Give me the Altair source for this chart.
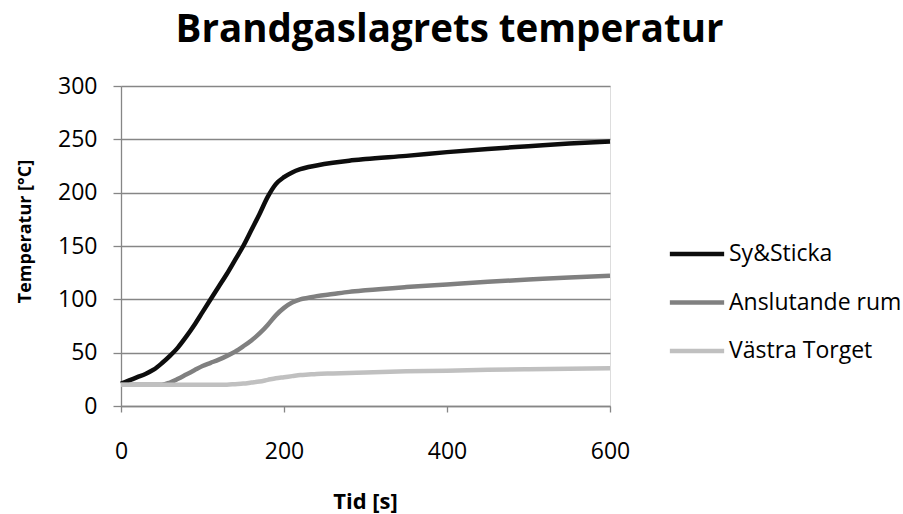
import altair as alt
import pandas as pd

# --- data ---
time_s = [0, 10, 20, 30, 40, 50, 60, 70, 80, 90, 100, 110, 120, 130, 140, 150, 160, 170,
          180, 190, 200, 210, 220, 230, 240, 260, 280, 300, 350, 400, 450, 500, 550, 600]
sy_sticka = [21, 24, 27, 30, 34, 40, 47, 55, 65, 76, 88, 100, 112, 124, 137, 150, 165, 180,
             196, 208, 214.5, 219, 222, 224, 225.5, 228, 230, 231.5, 234.5, 238, 241, 243.5, 246, 248]
anslutande = [20, 20, 20, 20, 20, 20, 22, 25.5, 29.5, 33.5, 37.5, 40.5, 43.5, 47, 51, 56, 61.5, 68,
              76, 85, 92, 97, 100, 101.5, 103, 105, 107, 108.5, 111.5, 114, 116.5, 118.5, 120.5, 122]
vastra = [20, 20, 20, 20, 20, 20, 20, 20, 20, 20, 20, 20, 20, 20, 20.5, 21, 22, 23,
          24.5, 26, 27, 28, 29, 29.5, 30, 30.5, 31, 31.5, 32.5, 33, 34, 34.5, 35, 35.5]
series_names = ["Sy&Sticka", "Anslutande rum", "Västra Torget"]
series_colors = ["#0d0d0d", "#808080", "#c0c0c0"]
x_ticks = [0, 200, 400, 600]
y_ticks = [0, 50, 100, 150, 200, 250, 300]

rows = []
for name, vals in zip(series_names, [sy_sticka, anslutande, vastra]):
    for t, v in zip(time_s, vals):
        rows.append({"t": t, "temp": v, "serie": name})
df = pd.DataFrame(rows)

FONT = "Open Sans"
GRID = "#868686"

chart = alt.Chart(df).mark_line(strokeWidth=4.5, interpolate="monotone").encode(
    x=alt.X("t:Q",
            scale=alt.Scale(domain=[0, 600], nice=False),
            axis=alt.Axis(values=x_ticks, title="Tid [s]", grid=False, labelFlush=False,
                          domainColor=GRID, domainWidth=1.3, tickColor=GRID, tickWidth=1.3,
                          tickSize=6, labelPadding=28, labelFontSize=23, labelFont=FONT,
                          labelColor="#000", titleFont=FONT, titleFontSize=22,
                          titleFontWeight="bold", titleColor="#000", titleX=244,
                          titleY=102, titleBaseline="alphabetic")),
    y=alt.Y("temp:Q",
            scale=alt.Scale(domain=[0, 300], nice=False),
            axis=alt.Axis(values=y_ticks, title="Temperatur [°C]", grid=True,
                          gridColor=GRID, gridWidth=1.3, labelFlush=False,
                          domainColor=GRID, domainWidth=1.3, tickColor=GRID, tickWidth=1.3,
                          tickSize=8, labelPadding=16, labelFontSize=23, labelFont=FONT,
                          labelColor="#000", titleFont=FONT, titleFontSize=18,
                          titleFontWeight="bold", titleColor="#000", titleX=-91,
                          titleY=145, titleAngle=270, titleBaseline="alphabetic")),
    color=alt.Color("serie:N",
                    scale=alt.Scale(domain=series_names, range=series_colors),
                    sort=series_names,
                    legend=alt.Legend(title=None, orient="none", legendX=560, legendY=152,
                                      symbolType="M-2,0H2", symbolSize=737,
                                      symbolStrokeWidth=4.5, labelOffset=16,
                                      labelFontSize=23, labelFont=FONT, labelColor="#000",
                                      rowPadding=20.5, padding=0, labelLimit=300)),
).properties(
    width=489,
    height=320,
    title=alt.TitleParams("Brandgaslagrets temperatur", font=FONT, fontSize=38.5,
                          fontWeight="bold", color="#000", anchor="middle", dx=84, dy=15,
                          offset=10, baseline="alphabetic"),
    autosize=alt.AutoSizeParams(type="none"),
    padding={"left": 121, "top": 86, "right": 293, "bottom": 108},
).configure_view(stroke=None).configure(background="white")

chart.save("out.html", embed_options={"renderer": "svg", "actions": False})
